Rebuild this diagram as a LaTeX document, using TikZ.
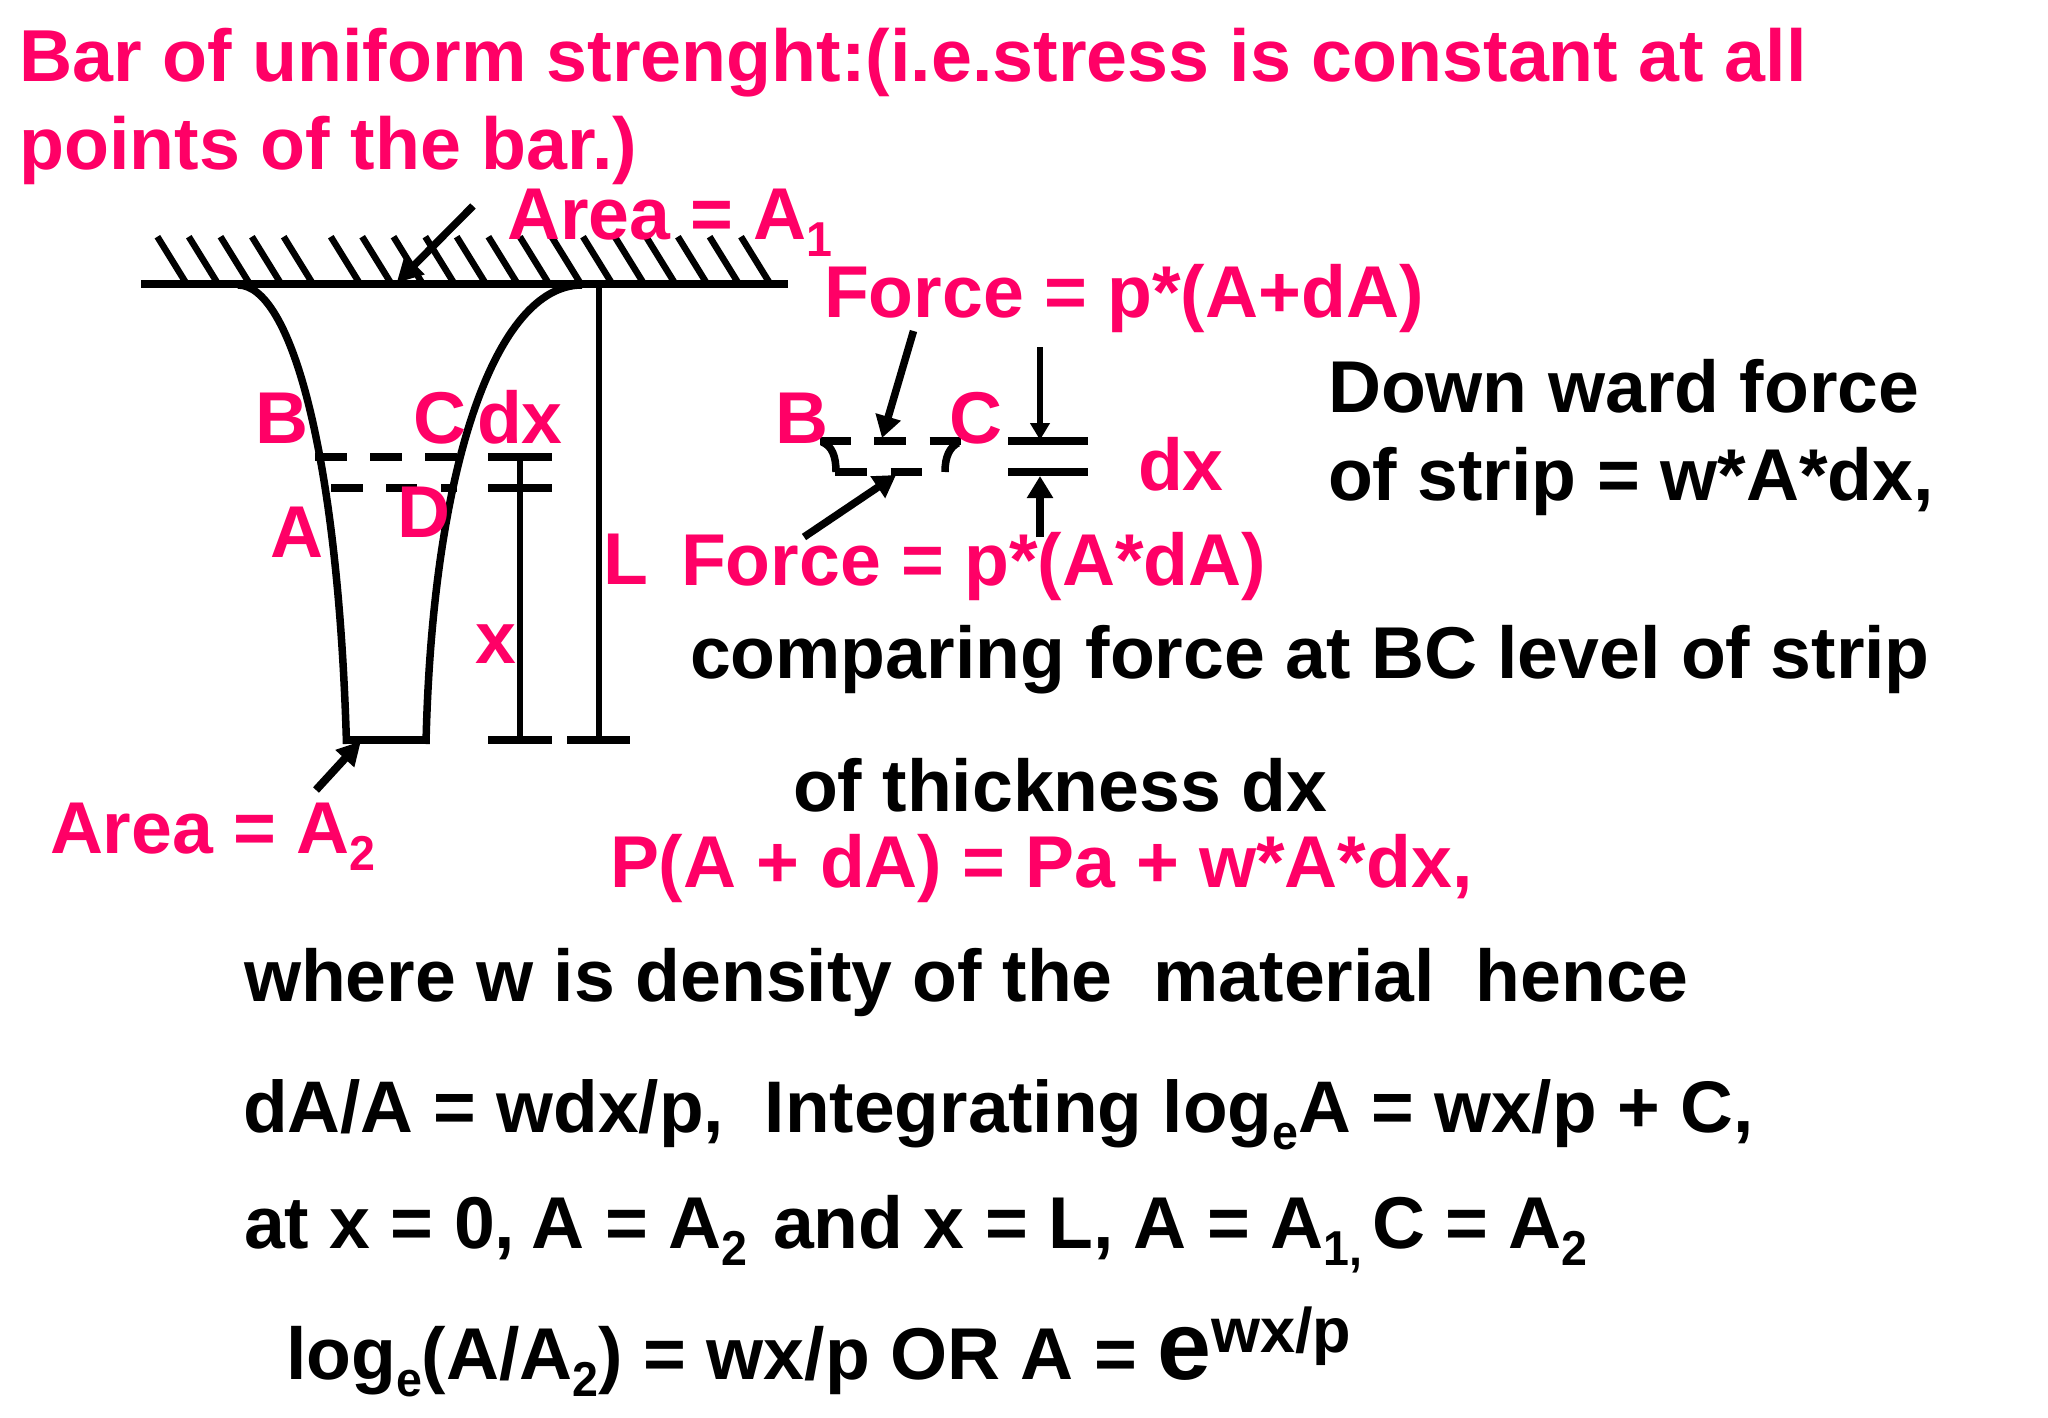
\documentclass[tikz,border=0pt]{standalone}
\usepackage{fontspec}
\setmainfont{Liberation Sans}
\usetikzlibrary{arrows.meta}
\definecolor{hot}{HTML}{FF0066}
\newcommand{\sbs}[1]{\raisebox{-17pt}{\fontsize{49}{50}\selectfont\scalebox{0.95}[1]{#1}}}
\tikzset{
 lab/.style={anchor=base west,inner sep=0pt,outer sep=0pt,font=\fontsize{73.4}{80}\selectfont\bfseries},
 pink/.style={lab,text=hot},
 blk/.style={lab,text=black},
 title/.style={pink,font=\fontsize{73.6}{80}\selectfont\bfseries},
 hatchline/.style={line width=6.5pt,black},
 thick line/.style={line width=8pt,black},
 thin line/.style={line width=6pt,black},
 curve/.style={line width=7.5pt,black},
 big arrow/.style={line width=7.5pt,black,-{Triangle[length=22pt,width=25pt]}},
 small arrow/.style={line width=5.5pt,black,-{Triangle[length=17pt,width=19pt]}},
}
\begin{document}
\begin{tikzpicture}[x=1pt,y=-1pt]
\useasboundingbox (0,0) rectangle (2048,1418);
\fill[white] (0,0) rectangle (2048,1418);
% ground
\coordinate (gl) at (141,284); \coordinate (gr) at (788,284);
\draw[thick line] (gl) -- (gr);
\foreach \x in {157.4,188.8,220.5,251.9,283.7,330.8,362.2,393.5,425.3,456.7,488.4,519.8,551.6,583,614.8,646.1,677.9,709.6,741}
  \draw[hatchline] (\x,236.7) -- (\x+28,282);
% bar
\coordinate (lt) at (238,285); \coordinate (lb) at (346.5,744);
\coordinate (rt) at (582,285); \coordinate (rb) at (426,744);
\draw[curve] (lt) .. controls (290,285) and (338,450) .. (lb);
\draw[curve] (rt) .. controls (495,285) and (432,470) .. (rb);
\coordinate (bl) at (343,740); \coordinate (br) at (426,740);
\draw[thick line] (bl) -- (br);
% dashes
\foreach \a/\b in {315/346.5,370/401.5,425/457} \draw[thick line] (\a,457) -- (\b,457);
\foreach \a/\b in {331/362.5,386/417,441/457} \draw[thick line] (\a,488) -- (\b,488);
% dims
\coordinate (t1l) at (488,457); \coordinate (t1r) at (551.5,457);
\coordinate (t2l) at (488,488); \coordinate (t2r) at (551.5,488);
\coordinate (t3l) at (488,740); \coordinate (t3r) at (551.5,740);
\coordinate (t4l) at (567,740); \coordinate (t4r) at (630,740);
\coordinate (v1t) at (520,457); \coordinate (v1b) at (520,740);
\coordinate (v2t) at (598.5,285); \coordinate (v2b) at (598.5,740);
\draw[thick line] (t1l) -- (t1r);
\draw[thick line] (t2l) -- (t2r);
\draw[thick line] (t3l) -- (t3r);
\draw[thick line] (t4l) -- (t4r);
\draw[thin line] (v1t) -- (v1b);
\draw[thin line] (v2t) -- (v2b);
% arrows
\coordinate (a1s) at (473,206); \coordinate (a1e) at (396.5,283);
\draw[line width=7.5pt,-{Triangle[length=26pt,width=26pt]}] (a1s) -- (a1e);
\coordinate (a2s) at (316,790); \coordinate (a2e) at (361,741);
\draw[line width=8pt,-{Triangle[length=24pt,width=24pt]}] (a2s) -- (a2e);
% strip
\foreach \a/\b in {820/851,874/906,929.5/961} \draw[thick line] (\a,441) -- (\b,441);
\foreach \a/\b in {835/867,890.5/922} \draw[thick line] (\a,472) -- (\b,472);
\coordinate (sl1) at (822,442); \coordinate (sl2) at (836,472);
\coordinate (sr1) at (958,443); \coordinate (sr2) at (945,472);
\draw[curve] (sl1) .. controls (832,446) and (836,456) .. (sl2);
\draw[curve] (sr1) .. controls (950,447) and (945,456) .. (sr2);
\coordinate (rt1l) at (1008,441); \coordinate (rt1r) at (1087.5,441);
\coordinate (rt2l) at (1008,472); \coordinate (rt2r) at (1087.5,472);
\draw[thick line] (rt1l) -- (rt1r);
\draw[thick line] (rt2l) -- (rt2r);
\coordinate (f1s) at (913.5,331); \coordinate (f1e) at (882,438);
\draw[big arrow] (f1s) -- (f1e);
\coordinate (f2s) at (804,537); \coordinate (f2e) at (896,475);
\draw[big arrow] (f2s) -- (f2e);
\coordinate (d1s) at (1040,347); \coordinate (d1e) at (1040,440);
\draw[small arrow] (d1s) -- (d1e);
\coordinate (d2s) at (1040,537); \coordinate (d2e) at (1040,476);
\draw[big arrow] (d2s) -- (d2e);
% text
\node[title] (t1) at (19.5,82) {Bar of uniform strenght:(i.e.stress is constant at all};
\node[title] (t2) at (19.5,169) {points of the bar.)};
\node[pink] (ar1) at (507,239) {Area = A\sbs{1}};
\node[pink] (fa) at (824,317) {Force = p*(A+dA)};
\node[blk] (d1) at (1328,412) {Down ward force};
\node[blk] (d2) at (1328,500) {of strip = w*A*dx,};
\node[pink] (B) at (255,443) {B};
\node[pink] (C) at (413,443) {C};
\node[pink] (dx) at (477,443) {dx};
\node[pink] (A) at (270,557) {A};
\node[pink] (D) at (397,537) {D};
\node[pink] (L) at (603,584) {L};
\node[pink] (x) at (475,663) {x};
\node[pink] (B2) at (775,443) {B};
\node[pink] (C2) at (949,443) {C};
\node[pink] (dx2) at (1138,490) {dx};
\node[pink] (fb) at (681,585) {Force = p*(A*dA)};
\node[blk] (c1) at (690,678) {comparing force at BC level of strip};
\node[blk] (c2) at (793,811) {of thickness dx};
\node[pink] (eq) at (610,887) {P(A + dA) = Pa + w*A*dx,};
\node[pink] (ar2) at (50,853) {Area = A\sbs{2}};
\node[blk] (w) at (244,1001) {where w is density of the\ \ material\ \ hence};
\node[blk,font=\fontsize{73.1}{80}\selectfont\bfseries] (i) at (243,1132) {dA/A = wdx/p,\ \ Integrating log\sbs{e}A = wx/p + C,};
\node[blk] (at) at (244,1248) {at x = 0, \hspace{-4pt}A = A\sbs{2}};
\node[blk] (at2) at (773,1248) {and x = L, A = A\sbs{1,}};
\node[blk] (at3) at (1372,1248) {C = A\sbs{2}};
\node[blk] (lg) at (286,1379) {log\sbs{e}(A/A\sbs{2}) = wx/p OR A = {\fontsize{97}{100}\selectfont e}\raisebox{27pt}{\fontsize{63}{66}\selectfont wx/p}};
\end{tikzpicture}
\end{document}
